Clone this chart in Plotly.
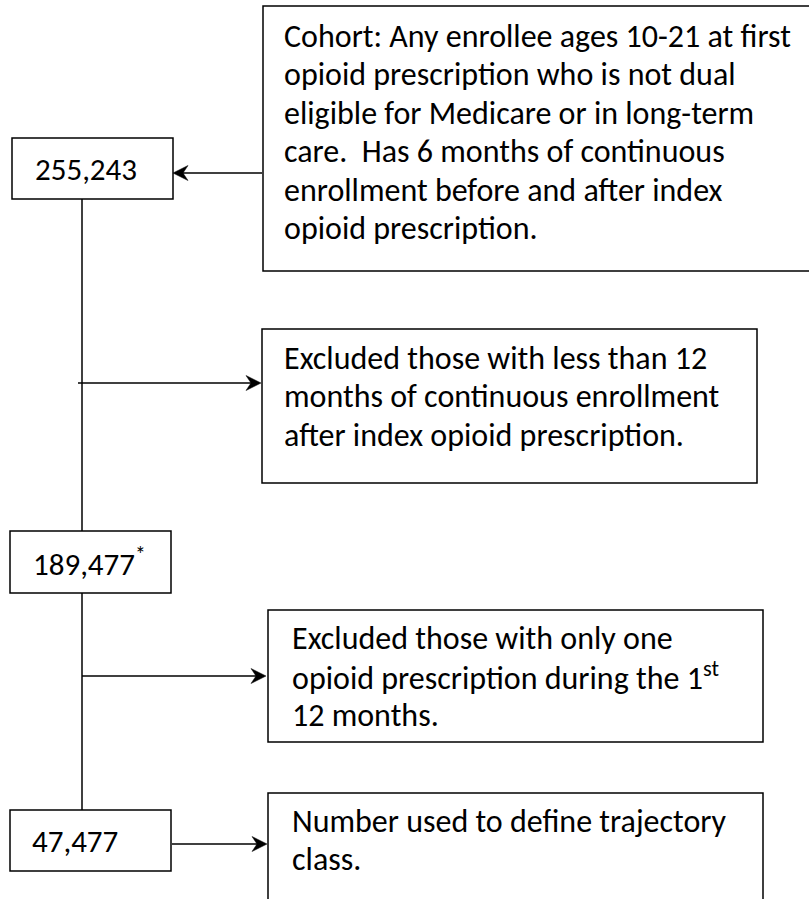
import plotly.graph_objects as go

# ---- content (data) ----
count_labels = ["255,243", "189,477<sup>*</sup>", "47,477"]
cohort_text = [
    "Cohort: Any enrollee ages 10-21 at first",
    "opioid prescription who is not dual",
    "eligible for Medicare or in long-term",
    "care.\u00a0 Has 6 months of continuous",
    "enrollment before and after index",
    "opioid prescription.",
]
excl1_text = [
    "Excluded those with less than 12",
    "months of continuous enrollment",
    "after index opioid prescription.",
]
excl2_text = [
    "Excluded those with only one",
    "opioid prescription during the 1<sup>st</sup>",
    "12 months.",
]
final_text = [
    "Number used to define trajectory",
    "class.",
]

# ---- layout geometry (pixels, y downward) ----
FONT = "Calibri, Carlito, Lato, sans-serif"
TXT_SIZE = 32
NUM_SIZE = 31
LINE = "#000000"
LW = 1.5

count_boxes = [(12, 138, 173, 199), (10, 531, 171, 593), (10, 810, 171, 871)]
count_text_xy = [(33, 180), (31, 573), (30, 852)]

# (x0, y0, x1, y1, lines, text_x, first_baseline, open_side)
text_boxes = [
    (263, 6, 1000, 271, cohort_text, 282, 48, "right"),
    (262, 329, 757, 483, excl1_text, 282, 370, None),
    (268, 610, 763, 742, excl2_text, 290, 650, None),
    (268, 793, 763, 1000, final_text, 290, 833, "bottom"),
]
LINE_STEP = 38.5

fig = go.Figure()
shapes = []
annotations = []

# trunk line
shapes.append(dict(type="line", x0=82, x1=82, y0=199, y1=531, line=dict(color=LINE, width=LW)))
shapes.append(dict(type="line", x0=82, x1=82, y0=593, y1=810, line=dict(color=LINE, width=LW)))

for (x0, y0, x1, y1) in count_boxes:
    shapes.append(dict(type="rect", x0=x0, x1=x1, y0=y0, y1=y1,
                       line=dict(color=LINE, width=LW), fillcolor="white"))

for (x0, y0, x1, y1, lines, tx, ty, open_side) in text_boxes:
    if open_side == "right":
        path = f"M {x1},{y0} L {x0},{y0} L {x0},{y1} L {x1},{y1}"
    elif open_side == "bottom":
        path = f"M {x0},{y1} L {x0},{y0} L {x1},{y0} L {x1},{y1}"
    else:
        path = f"M {x0},{y0} L {x1},{y0} L {x1},{y1} L {x0},{y1} Z"
    shapes.append(dict(type="path", path=path, line=dict(color=LINE, width=LW),
                       fillcolor="rgba(0,0,0,0)"))
    for i, t in enumerate(lines):
        annotations.append(dict(x=tx, y=ty + i * LINE_STEP - 0.36 * TXT_SIZE, text=t,
                                xref="x", yref="y", xanchor="left", yanchor="middle",
                                showarrow=False, align="left",
                                font=dict(family=FONT, size=TXT_SIZE, color="black")))

for lab, (tx, ty) in zip(count_labels, count_text_xy):
    annotations.append(dict(x=tx, y=ty - 0.36 * NUM_SIZE, text=lab,
                            xref="x", yref="y", xanchor="left", yanchor="middle",
                            showarrow=False, align="left",
                            font=dict(family=FONT, size=NUM_SIZE, color="black")))

# arrows: (tail_x, tail_y, tip_x, tip_y) drawn as line + stealth head
arrows = [(262, 173, 173, 173), (78, 383, 261, 383), (82, 676, 266, 676), (172, 844, 267, 844)]
HEAD_L, HEAD_W, NOTCH = 15, 7.5, 10
for (ax, ay, x, y) in arrows:
    d = 1 if x > ax else -1
    shapes.append(dict(type="line", x0=ax, y0=ay, x1=x - d * NOTCH, y1=y,
                       line=dict(color=LINE, width=LW)))
    path = (f"M {x},{y} L {x - d * HEAD_L},{y - HEAD_W} L {x - d * NOTCH},{y} "
            f"L {x - d * HEAD_L},{y + HEAD_W} Z")
    shapes.append(dict(type="path", path=path, fillcolor=LINE, line=dict(color=LINE, width=0.5)))

fig.update_layout(
    width=809, height=899,
    margin=dict(l=0, r=0, t=0, b=0),
    paper_bgcolor="white", plot_bgcolor="white",
    xaxis=dict(range=[0, 809], visible=False, fixedrange=True),
    yaxis=dict(range=[899, 0], visible=False, fixedrange=True),
    shapes=shapes, annotations=annotations, showlegend=False,
)
fig.write_html("out.html", config={"displayModeBar": False},
               post_script="document.body.style.margin='0';document.body.style.overflow='hidden';")
